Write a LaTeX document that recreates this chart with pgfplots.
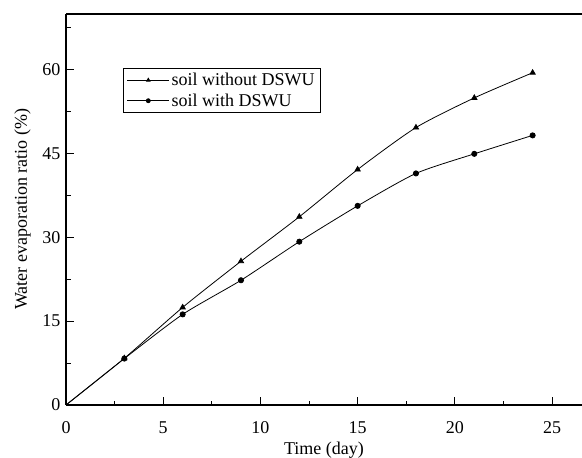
\documentclass[border=0pt]{standalone}
\usepackage{pgfplots}
\pgfplotsset{compat=1.18}
\usepackage{fontspec}
\setmainfont{Liberation Serif}
\begin{document}
\begin{tikzpicture}
\begin{axis}[
  name=ax,
  scale only axis,
  width=516pt, height=391pt,
  xmin=0, xmax=26.54, ymin=0, ymax=69.9,
  axis x line=box, axis y line*=left,
  axis line style={line width=1.3pt},
  xtick={0,5,...,25}, ytick={0,15,...,60},
  minor xtick={2.5,7.5,...,25}, minor ytick={7.5,22.5,...,67.5},
  xtick pos=bottom, ytick pos=left,
  tick align=inside,
  major tick length=8pt, minor tick length=4.5pt,
  every tick/.style={line width=1pt, black},
  /pgf/number format/assume math mode=true,
  tick label style={font=\fontsize{18}{20}\selectfont},
  label style={font=\fontsize{18}{20}\selectfont},
  xticklabel style={yshift=-13pt},
  yticklabel style={xshift=-2pt},
  xlabel={Time (day)},
  ylabel={Water evaporation ratio (\%)},
  xlabel style={yshift=-1pt},
  ylabel style={yshift=5pt},
  legend style={at={(rel axis cs:0.1095,0.861)}, anchor=north west,
    font=\fontsize{18}{20}\selectfont, draw=black, line width=0.8pt,
    inner xsep=4pt, inner ysep=2.5pt, row sep=2.5pt, cells={anchor=west}},
  legend image post style={line width=0.8pt},
  legend image code/.code={\draw[#1,mark=none] (0pt,0pt) -- (42pt,0pt); \draw[#1,mark indices={1},mark repeat=1,mark size=2pt] plot coordinates {(21pt,0pt)};},
]
\addplot[black, line width=0.8pt, smooth, tension=0.4, mark=triangle*, mark size=3pt, mark indices={2,3,4,5,6,7,8,9}]
  coordinates {(0,0) (3,8.35) (6,17.45) (9,25.7) (12,33.65) (15,42.1) (18,49.6) (21,54.9) (24,59.4)};
\addlegendentry{soil without DSWU}
\addplot[black, line width=0.8pt, smooth, tension=0.4, mark=*, mark size=2.6pt, mark indices={2,3,4,5,6,7,8,9}]
  coordinates {(0,0) (3,8.3) (6,16.2) (9,22.3) (12,29.2) (15,35.6) (18,41.4) (21,44.9) (24,48.2)};
\addlegendentry{soil with DSWU}
\end{axis}
\pgfresetboundingbox
\path ([xshift=-66pt,yshift=-52pt]ax.south west) rectangle ([yshift=14pt]ax.north east);
\end{tikzpicture}
\end{document}
